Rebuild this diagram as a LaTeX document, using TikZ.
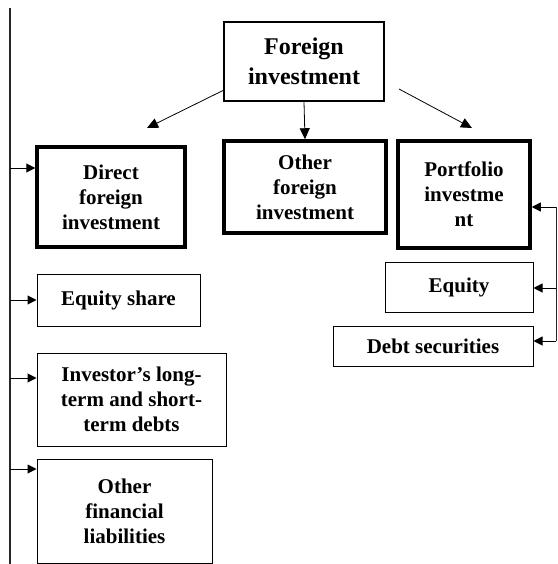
\documentclass[tikz,border=0pt]{standalone}
\usepackage{fontspec}
\setmainfont{Liberation Serif}
\usetikzlibrary{arrows.meta}

\begin{document}
\begin{tikzpicture}[x=1pt, y=-1pt,
    every node/.style = {shape=rectangle, draw, align=center, inner sep=0pt,
      font=\bfseries\fontsize{21}{25}\selectfont},
    top/.style  = {line width=2pt, font=\bfseries\fontsize{24}{30}\selectfont},
    kind/.style = {line width=3.5pt},
    item/.style = {line width=1pt},
    link/.style = {-{Triangle[length=11pt,width=10pt]}, line width=0.8pt},
    side/.style = {-{Triangle[length=9pt,width=9pt]}, line width=1pt}
    ]
    \useasboundingbox (0,0) rectangle (557,564);
    \node [top, minimum width=160pt, minimum height=79pt] (fi) at (304,61.5) {Foreign\\investment};
    \node [kind, minimum width=148pt, minimum height=100pt] (dfi) at (111,197) {Direct\\foreign\\investment};
    \node [kind, minimum width=162pt, minimum height=92pt] (ofi) at (305,187) {Other\\foreign\\investment};
    \node [kind, minimum width=132pt, minimum height=107pt] (pfi) at (464,194.5) {Portfolio\\investme\\nt};
    \node [item, minimum width=148pt, minimum height=50pt] (eq) at (459,287) {Equity};
    \node [item, minimum width=200pt, minimum height=40pt] (debt) at (433,346) {Debt securities};
    \node [item, minimum width=163pt, minimum height=52pt] (share) at (118.5,300) {Equity share};
    \node [item, minimum width=189pt, minimum height=93pt] (debts) at (131.5,399.5) {Investor’s long-\\term and short-\\term debts};
    \node [item, minimum width=175pt, minimum height=104pt] (liab) at (124.5,511.5) {Other\\financial\\liabilities};
    % arrows from the top box
    \coordinate (dfi-out) at (224,90);
    \coordinate (dfi-in) at (147,128);
    \coordinate (pfi-out) at (399,89);
    \coordinate (pfi-in) at (472,128);
    \draw [link] (dfi-out) -- (dfi-in);
    \draw [link] (fi.south) -- (ofi.north);
    \draw [link] (pfi-out) -- (pfi-in);
    % left spine
    \coordinate (ltop) at (10,8);
    \coordinate (lbot) at (10,564);
    \draw [line width=1.3pt, black!85] (ltop) -- (lbot);
    \foreach \y/\n in {168/dfi, 300/share, 378/debts, 469/liab}
      \draw [side] (10,\y) -- (\n.west |- 0,\y);
    % right spine
    \coordinate (rtop) at (556,207);
    \coordinate (rbot) at (556,341);
    \draw [line width=1pt, black!85] (rtop) -- (rbot);
    \foreach \y/\n in {207/pfi, 288/eq, 341/debt}
      \draw [side] (556,\y) -- (\n.east |- 0,\y);
  \end{tikzpicture}
\end{document}
